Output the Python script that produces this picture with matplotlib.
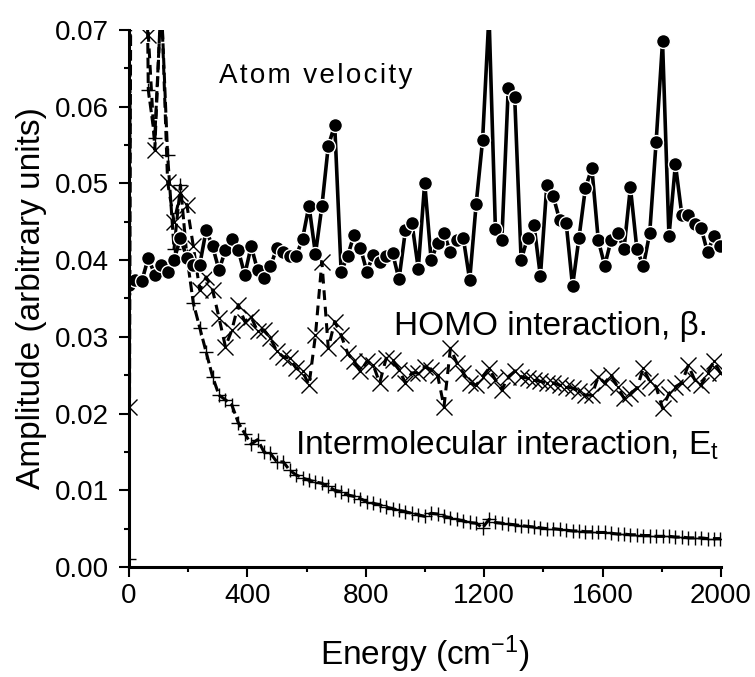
import matplotlib
matplotlib.use('Agg')
import matplotlib.pyplot as plt
from matplotlib.ticker import MultipleLocator, FormatStrFormatter

# FFT energy grid (cm^-1)
energy = [0.0, 21.7, 43.4, 65.1, 86.9, 108.6, 130.3, 152.0, 173.7, 195.4,
          217.2, 238.9, 260.6, 282.3, 304.0, 325.7, 347.5, 369.2, 390.9, 412.6,
          434.3, 456.0, 477.8, 499.5, 521.2, 542.9, 564.6, 586.3, 608.0, 629.8,
          651.5, 673.2, 694.9, 716.6, 738.3, 760.1, 781.8, 803.5, 825.2, 846.9,
          868.6, 890.4, 912.1, 933.8, 955.5, 977.2, 998.9, 1020.7, 1042.4, 1064.1,
          1085.8, 1107.5, 1129.2, 1150.9, 1172.7, 1194.4, 1216.1, 1237.8, 1259.5, 1281.2,
          1303.0, 1324.7, 1346.4, 1368.1, 1389.8, 1411.5, 1433.3, 1455.0, 1476.7, 1498.4,
          1520.1, 1541.8, 1563.6, 1585.3, 1607.0, 1628.7, 1650.4, 1672.1, 1693.8, 1715.6,
          1737.3, 1759.0, 1780.7, 1802.4, 1824.1, 1845.9, 1867.6, 1889.3, 1911.0, 1932.7,
          1954.4, 1976.2, 1997.9]

atom_velocity = [0.0367, 0.0374, 0.0373, 0.0403, 0.0381, 0.0394, 0.0384, 0.0400, 0.0429, 0.0403,
                 0.0394, 0.0394, 0.0439, 0.0418, 0.0387, 0.0413, 0.0427, 0.0413, 0.0381, 0.0418,
                 0.0387, 0.0377, 0.0392, 0.0416, 0.0410, 0.0405, 0.0405, 0.0428, 0.0471, 0.0408,
                 0.0470, 0.0549, 0.0576, 0.0385, 0.0405, 0.0433, 0.0416, 0.0385, 0.0407, 0.0398,
                 0.0405, 0.0409, 0.0375, 0.0439, 0.0449, 0.0389, 0.0501, 0.0400, 0.0422, 0.0435,
                 0.0410, 0.0426, 0.0429, 0.0374, 0.0473, 0.0556, 0.0720, 0.0440, 0.0426, 0.0625,
                 0.0612, 0.0400, 0.0429, 0.0446, 0.0379, 0.0498, 0.0483, 0.0452, 0.0449, 0.0366,
                 0.0429, 0.0494, 0.0520, 0.0426, 0.0393, 0.0426, 0.0436, 0.0414, 0.0495, 0.0415,
                 0.0392, 0.0435, 0.0554, 0.0685, 0.0431, 0.0525, 0.0459, 0.0459, 0.0447, 0.0442,
                 0.0410, 0.0432, 0.0418]

homo_beta = [0.0209, 0.3000, 0.1500, 0.0694, 0.0544, 0.0745, 0.0502, 0.0450, 0.0487, 0.0472,
             0.0418, 0.0361, 0.0378, 0.0361, 0.0325, 0.0287, 0.0309, 0.0342, 0.0320, 0.0326,
             0.0307, 0.0309, 0.0298, 0.0281, 0.0274, 0.0272, 0.0259, 0.0255, 0.0237, 0.0302,
             0.0398, 0.0285, 0.0320, 0.0302, 0.0279, 0.0268, 0.0255, 0.0268, 0.0263, 0.0240,
             0.0272, 0.0270, 0.0257, 0.0240, 0.0253, 0.0253, 0.0261, 0.0257, 0.0250, 0.0209,
             0.0285, 0.0266, 0.0253, 0.0240, 0.0237, 0.0248, 0.0259, 0.0244, 0.0231, 0.0248,
             0.0255, 0.0248, 0.0246, 0.0244, 0.0242, 0.0240, 0.0240, 0.0237, 0.0235, 0.0233,
             0.0229, 0.0224, 0.0224, 0.0248, 0.0240, 0.0250, 0.0235, 0.0220, 0.0226, 0.0233,
             0.0259, 0.0242, 0.0235, 0.0207, 0.0226, 0.0235, 0.0240, 0.0263, 0.0244, 0.0237,
             0.0253, 0.0268, 0.0253]

intermolecular = [0.0010, 0.2800, 0.1400, 0.0622, 0.0559, 0.0740, 0.0537, 0.0415, 0.0498, 0.0405,
                  0.0344, 0.0312, 0.0280, 0.0248, 0.0224, 0.0218, 0.0211, 0.0188, 0.0174, 0.0160,
                  0.0166, 0.0150, 0.0148, 0.0137, 0.0137, 0.0126, 0.0120, 0.0116, 0.0113, 0.0111,
                  0.0109, 0.0105, 0.0100, 0.0098, 0.0094, 0.0092, 0.0089, 0.0085, 0.0083, 0.0081,
                  0.0078, 0.0076, 0.0074, 0.0072, 0.0070, 0.0068, 0.0066, 0.0070, 0.0069, 0.0066,
                  0.0064, 0.0062, 0.0060, 0.0058, 0.0057, 0.0051, 0.0062, 0.0058, 0.0057, 0.0056,
                  0.0055, 0.0054, 0.0053, 0.0052, 0.0051, 0.0050, 0.0050, 0.0049, 0.0048, 0.0047,
                  0.0047, 0.0046, 0.0046, 0.0045, 0.0045, 0.0044, 0.0043, 0.0043, 0.0042, 0.0042,
                  0.0041, 0.0041, 0.0040, 0.0040, 0.0040, 0.0039, 0.0039, 0.0038, 0.0038, 0.0038,
                  0.0037, 0.0037, 0.0037]

plt.rcParams['font.family'] = ['Liberation Sans', 'DejaVu Sans']
plt.rcParams['mathtext.fontset'] = 'custom'
plt.rcParams['mathtext.rm'] = 'Liberation Sans'
plt.rcParams['mathtext.it'] = 'Liberation Sans:italic'

fig = plt.figure(figsize=(7.55, 6.77), dpi=100)
ax = fig.add_axes([0.1709, 0.1625, 0.7841, 0.7932])

# series drawn Origin-style: + dashed, x dashed, filled dots solid
ax.plot(energy, intermolecular, color='black', lw=2.2, ls=(0, (3.5, 1.3)),
        marker='+', ms=10, mew=1.0)
ax.plot(energy, homo_beta, color='black', lw=2.2, ls=(0, (3.2, 2.2)),
        marker='x', ms=11, mew=1.0)
ax.plot(energy, atom_velocity, color='black', lw=2.6, marker='o', ms=10,
        mfc='black', mec='white', mew=1.0)

ax.set_xlim(0, 2000)
ax.set_ylim(0, 0.07)
ax.xaxis.set_major_locator(MultipleLocator(400))
ax.xaxis.set_minor_locator(MultipleLocator(200))
ax.yaxis.set_major_locator(MultipleLocator(0.01))
ax.yaxis.set_minor_locator(MultipleLocator(0.005))
ax.yaxis.set_major_formatter(FormatStrFormatter('%.2f'))

for side in ['top', 'right']:
    ax.spines[side].set_visible(False)
for side in ['left', 'bottom']:
    ax.spines[side].set_linewidth(2.2)

ax.tick_params(which='major', direction='out', length=7.2, width=1.5, labelsize=20)
ax.tick_params(which='minor', direction='out', length=3.6, width=1.5)
ax.tick_params(axis='y', which='major', pad=7)
ax.tick_params(axis='x', which='major', pad=4)

ax.set_xlabel('Energy (cm$^{-1}$)', fontsize=24)
ax.set_ylabel('Amplitude (arbitrary units)', fontsize=24)
ax.xaxis.set_label_coords(0.5, -0.124)
ax.yaxis.set_label_coords(-0.139, 0.5)

# letter-spaced title of the velocity curve
spaced = '\u200a'.join('Atom velocity')
ax.text(304, 0.0631, spaced, fontsize=20, ha='left', va='baseline')
ax.text(895, 0.0302, 'HOMO interaction, \u03b2.', fontsize=24, ha='left', va='baseline')
ax.text(561, 0.0146, 'Intermolecular interaction, E$_{\\mathrm{t}}$', fontsize=24,
        ha='left', va='baseline')

fig.savefig('out.png', dpi=100)
